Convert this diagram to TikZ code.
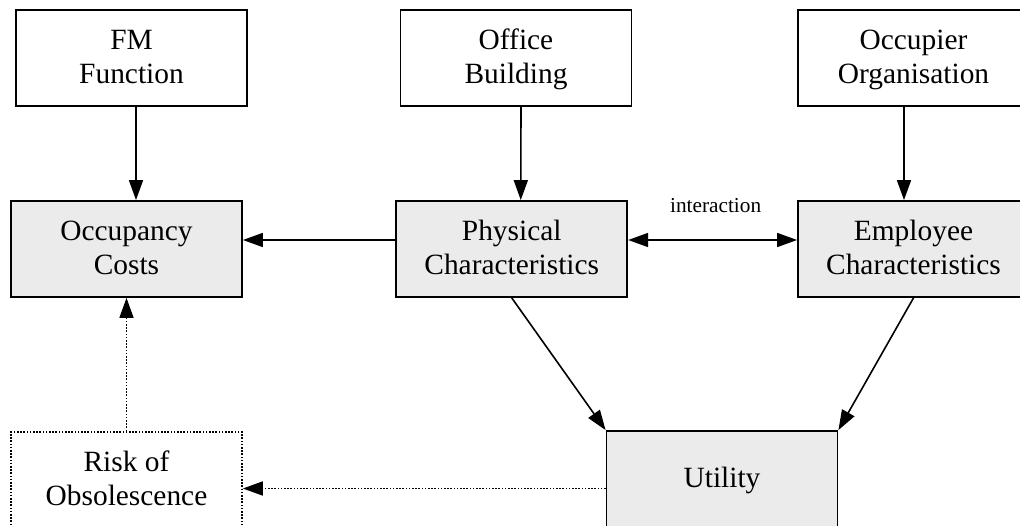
\documentclass[tikz,border=0pt]{standalone}
\usepackage{fontspec}
\setmainfont{Liberation Serif}
\usetikzlibrary{arrows.meta}
\definecolor{boxgray}{HTML}{EBEBEB}
\newcommand\lnstrut{\rule[-7pt]{0pt}{31pt}}
\begin{document}
\begin{tikzpicture}[x=1pt,y=-1pt,
  box/.style={draw, line width=1.8pt, minimum width=231pt, minimum height=96pt,
    inner sep=0pt, align=center,
    font=\fontsize{29.4}{34}\selectfont},
  graybox/.style={box, fill=boxgray},
  dotbox/.style={box, line width=1.6pt, dash pattern=on 1.6pt off 1.6pt},
  arr/.style={line width=1.6pt, -{Triangle[length=20pt,width=14pt]}},
  dotarr/.style={arr, dash pattern=on 1.6pt off 1.6pt},
  lbl/.style={font=\fontsize{21.3}{24}\selectfont, inner sep=0pt}
]
\useasboundingbox (0,0) rectangle (1020,525);
\clip (0,0) rectangle (1020,525);
\node[box] (fm) at (131.5,58) {\lnstrut FM\\\lnstrut Function};
\node[box] (office) at (516,58) {\lnstrut Office\\\lnstrut Building};
\node[box] (occupier) at (913.5,58) {\lnstrut Occupier\\\lnstrut Organisation};
\node[graybox] (occ) at (126.5,249) {\lnstrut Occupancy\\\lnstrut Costs};
\node[graybox] (phys) at (511.75,249) {\lnstrut Physical\\\lnstrut Characteristics};
\node[graybox] (emp) at (913.5,249) {\lnstrut Employee\\\lnstrut Characteristics};
\node[dotbox] (risk) at (126.5,480) {\lnstrut Risk of\\\lnstrut Obsolescence};
\node[graybox] (util) at (722,479) {\lnstrut Utility};

\draw[arr] ([xshift=4.5pt]fm.south) -- ([xshift=9.5pt]occ.north);
\draw[arr] ([xshift=5pt]office.south) -- ([xshift=9pt]phys.north);
\draw[arr] ([xshift=-9.5pt]occupier.south) -- ([xshift=-9.5pt]emp.north);
\draw[arr] ([yshift=9pt]phys.west) -- ([yshift=9pt]occ.east);
\draw[line width=1.6pt, {Triangle[length=20pt,width=14pt]}-{Triangle[length=20pt,width=14pt]}]
  ([yshift=9pt]phys.east) -- node[lbl, anchor=base, yshift=28pt, xshift=3pt] (inter) {interaction} ([yshift=9pt]emp.west);
\draw[arr] (phys.south) -- (util.north west);
\draw[arr] (emp.south) -- (util.north east);
\draw[dotarr] (risk.north) -- (occ.south);
\draw[dotarr] ([yshift=-9.5pt]util.west) -- ([yshift=-9.5pt]util.west -| risk.east);
\end{tikzpicture}
\end{document}
